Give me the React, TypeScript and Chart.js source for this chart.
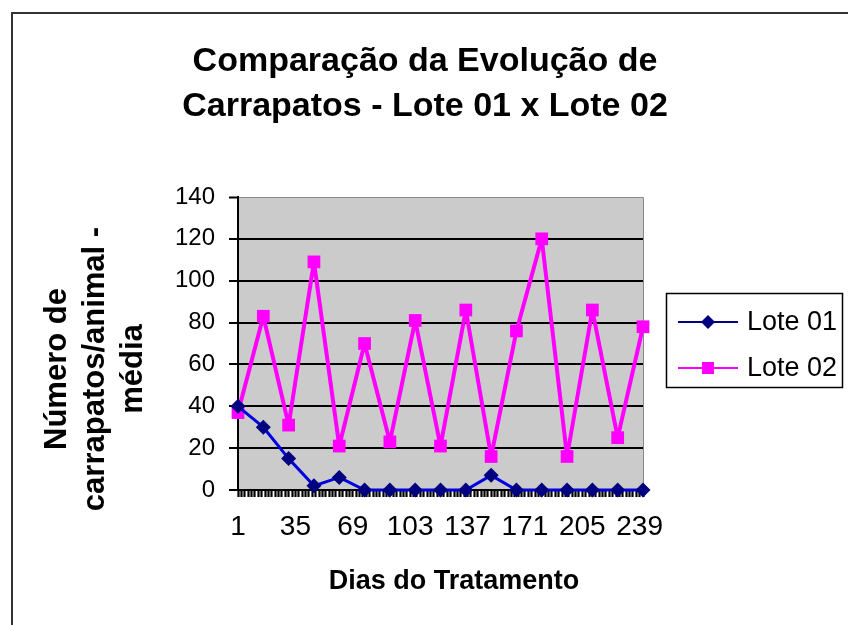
import React, { useEffect, useRef } from "react";
import { Chart, registerables } from "chart.js";
Chart.register(...registerables);

const days = [1, 16, 31, 46, 61, 76, 91, 106, 121, 136, 151, 166, 181, 196, 211, 226, 241];
const lote01 = [40, 30, 15, 2, 6, 0, 0, 0, 0, 0, 7, 0, 0, 0, 0, 0, 0];
const lote02 = [37, 83, 31, 109, 21, 70, 23, 81, 21, 86, 16, 76, 120, 16, 86, 25, 78];
const seriesNames = ["Lote 01", "Lote 02"];
const xLabelDays = [1, 35, 69, 103, 137, 171, 205, 239];
const titleLines = ["Comparação da Evolução de", "Carrapatos - Lote 01 x Lote 02"];
const yTitleLines = ["Número de", "carrapatos/animal -", "média"];
const xTitle = "Dias do Tratamento";

const FONT = "'Liberation Sans', Arial, sans-serif";
const BLUE_LINE = "#0000e0";
const NAVY = "#000080";
const PINK = "#ff00ff";

const decorPlugin = {
  id: "decor",
  beforeDraw(chart: any) {
    const { ctx, chartArea: a } = chart;
    ctx.save();
    ctx.strokeStyle = "#333";
    ctx.lineWidth = 2;
    ctx.beginPath();
    ctx.moveTo(12, 625);
    ctx.lineTo(12, 13);
    ctx.lineTo(848, 13);
    ctx.stroke();
    ctx.fillStyle = "#cbcbcb";
    ctx.fillRect(a.left, a.top, a.right - a.left, a.bottom - a.top);
    ctx.strokeStyle = "#8a8a8a";
    ctx.lineWidth = 1;
    ctx.beginPath();
    ctx.moveTo(a.left, a.top + 0.5);
    ctx.lineTo(a.right + 0.5, a.top + 0.5);
    ctx.lineTo(a.right + 0.5, a.bottom);
    ctx.stroke();
    ctx.restore();
  },
  afterDraw(chart: any) {
    const { ctx } = chart;
    ctx.save();
    ctx.fillStyle = "#000";
    ctx.textAlign = "center";
    ctx.textBaseline = "middle";
    ctx.font = `bold 34px ${FONT}`;
    ctx.fillText(titleLines[0], 425, 62);
    ctx.fillText(titleLines[1], 425, 107);
    ctx.font = `bold 31px ${FONT}`;
    const yCenters = [57, 95, 133];
    yTitleLines.forEach((t, i) => {
      ctx.save();
      ctx.translate(yCenters[i], 369);
      ctx.rotate(-Math.PI / 2);
      ctx.fillText(t, 0, 0);
      ctx.restore();
    });
    ctx.font = `bold 27px ${FONT}`;
    ctx.fillText(xTitle, 454, 582);
    ctx.strokeStyle = "#000";
    ctx.lineWidth = 1.5;
    ctx.strokeRect(666.5, 293.5, 176, 94);
    const ys = [322, 368];
    const cols = [NAVY, PINK];
    ys.forEach((y, i) => {
      ctx.strokeStyle = cols[i];
      ctx.lineWidth = 2;
      ctx.beginPath();
      ctx.moveTo(678, y);
      ctx.lineTo(738, y);
      ctx.stroke();
      ctx.fillStyle = cols[i];
      if (i === 0) {
        ctx.beginPath();
        ctx.moveTo(708, y - 7);
        ctx.lineTo(715, y);
        ctx.lineTo(708, y + 7);
        ctx.lineTo(701, y);
        ctx.closePath();
        ctx.fill();
      } else {
        ctx.fillRect(702, y - 6, 12, 12);
      }
      ctx.fillStyle = "#000";
      ctx.font = `27px ${FONT}`;
      ctx.textAlign = "left";
      ctx.fillText(seriesNames[i], 747, y + 1);
    });
    ctx.restore();
  },
};

export default function App() {
  const ref = useRef<HTMLCanvasElement>(null);
  useEffect(() => {
    const chart = new Chart(ref.current!, {
      type: "line",
      data: {
        datasets: [
          {
            label: seriesNames[0],
            data: days.map((d, i) => ({ x: d, y: lote01[i] })),
            borderColor: BLUE_LINE,
            backgroundColor: NAVY,
            pointBorderColor: NAVY,
            borderWidth: 3,
            borderJoinStyle: "bevel",
            pointStyle: "rectRot",
            pointRadius: 7.5,
            pointBorderWidth: 0,
            clip: false,
            tension: 0,
          },
          {
            label: seriesNames[1],
            data: days.map((d, i) => ({ x: d, y: lote02[i] })),
            borderColor: PINK,
            backgroundColor: PINK,
            pointBorderColor: PINK,
            borderWidth: 4,
            borderJoinStyle: "bevel",
            pointStyle: "rect",
            pointRadius: 9,
            pointBorderWidth: 0,
            clip: false,
            tension: 0,
          },
        ],
      },
      options: {
        responsive: false,
        animation: false,
        devicePixelRatio: 1,
        layout: { padding: { top: 197, left: 0, right: 205, bottom: 0 } },
        plugins: {
          legend: { display: false },
          tooltip: { enabled: false },
          title: { display: false },
        },
        scales: {
          x: {
            type: "linear",
            min: days[0],
            max: days[days.length - 1],
            afterBuildTicks: (scale: any) => {
              const t = [];
              for (let v = days[0]; v <= days[days.length - 1]; v += 2) t.push({ value: v });
              scale.ticks = t;
            },
            afterFit: (scale: any) => {
              scale.height = 135;
            },
            ticks: {
              autoSkip: false,
              maxRotation: 0,
              minRotation: 0,
              padding: 13,
              color: "#000",
              font: { family: FONT, size: 28 },
              callback: (v: any) => (xLabelDays.includes(Number(v)) ? String(v) : ""),
            },
            grid: {
              drawOnChartArea: false,
              drawTicks: true,
              tickLength: 7,
              tickColor: "#000",
              tickWidth: 2.2,
              color: "#000",
            },
            border: { display: true, color: "#000", width: 2 },
          },
          y: {
            min: 0,
            max: 140,
            afterFit: (scale: any) => {
              scale.width = 238;
            },
            ticks: {
              stepSize: 20,
              padding: 14,
              color: "#000",
              font: { family: FONT, size: 24 },
            },
            grid: {
              color: (c: any) => (c.tick && c.tick.value === 140 ? "#8a8a8a" : "#000"),
              lineWidth: (c: any) => (c.tick && c.tick.value === 140 ? 1 : 2),
              tickColor: "#000",
              tickLength: 9,
              tickWidth: 2,
            },
            border: { display: true, color: "#000", width: 2 },
          },
        },
      },
      plugins: [decorPlugin],
    });
    return () => chart.destroy();
  }, []);
  return (
    <div style={{ position: "absolute", left: 0, top: 0, width: 848, height: 625, background: "#fff" }}>
      <canvas ref={ref} width={848} height={625} style={{ display: "block" }} />
    </div>
  );
}
